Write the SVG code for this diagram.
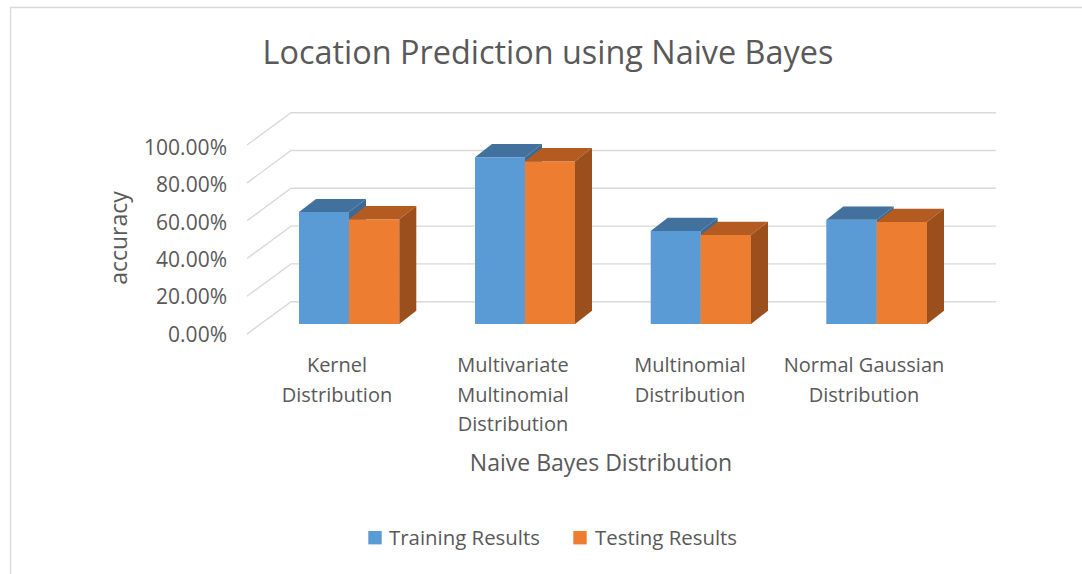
<svg xmlns="http://www.w3.org/2000/svg" width="1082" height="574" viewBox="0 0 1082 574">
<style>
text{font-family:"Open Sans","Liberation Sans",sans-serif;fill:#595959}
.grid{stroke:#d9d9d9;stroke-width:1.4;fill:none}
.tick{font-size:21px;text-anchor:end}
.cat{font-size:20px;text-anchor:middle}
.bf{fill:#5b9bd5}.bt{fill:#41719c}.bs{fill:#3d6a94}
.of{fill:#ed7d31}.ot{fill:#b45b21}.os{fill:#9a4f1c}
</style>
<rect x="0" y="0" width="1082" height="574" fill="#fff"/>
<path d="M10.5,580 V7.5 H1090" stroke="#d9d9d9" stroke-width="1.3" fill="none"/>
<text x="548" y="64" font-size="32.4" text-anchor="middle">Location Prediction using Naive Bayes</text>
<g id="gridlines">
<path class="grid" d="M247,145 L291,112.7 H996 M247,182.9 L291,150.5 H996 M247,220.7 L291,188.3 H996 M247,258.5 L291,226.1 H996 M247,296.3 L291,263.9 H996 M247,334.1 L291,301.7 H996"/>
</g>
<g id="yticks">
<text class="tick" x="227" y="155">100.00%</text>
<text class="tick" x="227" y="192.3">80.00%</text>
<text class="tick" x="227" y="229.6">60.00%</text>
<text class="tick" x="227" y="267">40.00%</text>
<text class="tick" x="227" y="304.3">20.00%</text>
<text class="tick" x="227" y="341.7">0.00%</text>
</g>
<text transform="translate(127,238) rotate(-90)" font-size="23" text-anchor="middle">accuracy</text>
<g id="bar-kernel">
<rect class="bf" x="299" y="212" width="50" height="112"/>
<polygon class="bt" points="299,212 349,212 366,199 316,199"/>
<polygon class="bs" points="349,212 366,199 366,311 349,324"/>
<rect class="of" x="349" y="219.3" width="50.3" height="104.7"/>
<polygon class="ot" points="349,219.3 399.3,219.3 416.3,206 366,206"/>
<polygon class="os" points="399.3,219.3 416.3,206 416.3,310.7 399.3,324"/>
</g>
<g id="bar-multivariate">
<rect class="bf" x="475" y="157.3" width="50" height="166.7"/>
<polygon class="bt" points="475,157.3 525,157.3 542,144 492,144"/>
<polygon class="bs" points="525,157.3 542,144 542,311 525,324"/>
<rect class="of" x="525" y="161.3" width="50" height="162.7"/>
<polygon class="ot" points="525,161.3 575,161.3 592,148 542,148"/>
<polygon class="os" points="575,161.3 592,148 592,310.7 575,324"/>
</g>
<g id="bar-multinomial">
<rect class="bf" x="650.7" y="231" width="50" height="93"/>
<polygon class="bt" points="650.7,231 700.7,231 717.7,217.7 667.7,217.7"/>
<polygon class="bs" points="700.7,231 717.7,217.7 717.7,311 700.7,324"/>
<rect class="of" x="700.7" y="235" width="50.3" height="89"/>
<polygon class="ot" points="700.7,235 751,235 768,221.7 717.7,221.7"/>
<polygon class="os" points="751,235 768,221.7 768,310.7 751,324"/>
</g>
<g id="bar-gaussian">
<rect class="bf" x="826.3" y="219.7" width="50.4" height="104.3"/>
<polygon class="bt" points="826.3,219.7 876.7,219.7 893.7,206.4 843.3,206.4"/>
<polygon class="bs" points="876.7,219.7 893.7,206.4 893.7,311 876.7,324"/>
<rect class="of" x="876.7" y="222" width="50.3" height="102"/>
<polygon class="ot" points="876.7,222 927,222 944,208.7 893.7,208.7"/>
<polygon class="os" points="927,222 944,208.7 944,310.7 927,324"/>
</g>
<g id="categories">
<text class="cat" x="337" y="372">Kernel</text>
<text class="cat" x="337" y="402">Distribution</text>
<text class="cat" x="513" y="372">Multivariate</text>
<text class="cat" x="513" y="402">Multinomial</text>
<text class="cat" x="513" y="431">Distribution</text>
<text class="cat" x="690" y="372">Multinomial</text>
<text class="cat" x="690" y="402">Distribution</text>
<text class="cat" x="864" y="372">Normal Gaussian</text>
<text class="cat" x="864" y="402">Distribution</text>
</g>
<text x="601" y="471" font-size="23" text-anchor="middle">Naive Bayes Distribution</text>
<g id="legend">
<rect x="368.3" y="531" width="13.4" height="13.4" fill="#5b9bd5"/>
<text x="389" y="545" font-size="20.4">Training Results</text>
<rect x="573.3" y="531" width="13.4" height="13.4" fill="#ed7d31"/>
<text x="595" y="545" font-size="20.4">Testing Results</text>
</g>
</svg>
